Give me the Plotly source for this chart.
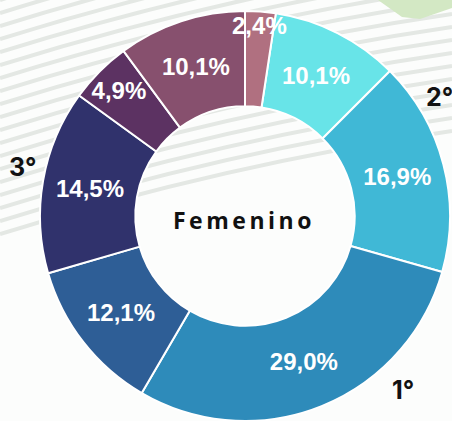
import numpy as np
import plotly.graph_objects as go

W, H = 452, 421

# slices, clockwise; the small 2,4% slice is listed last so its label stays on top
categories = ['G2', 'G3', 'G4', 'G5', 'G6', 'G7', 'G8', 'G1']
values = [10.1, 16.9, 29.0, 12.1, 14.5, 4.9, 10.1, 2.4]
colors = ['#68e4e8', '#40b8d6', '#2e8bba', '#2e5e96',
          '#30326c', '#5c3262', '#87506e', '#b07080']

center_title = 'Femenino'
rank_labels = ['1°', '2°', '3°']


def px2paper(x, y):
    return x / W, 1 - y / H


# pie placement in pixels
cx, cy, r = 245, 216, 205

fig = go.Figure(go.Pie(
    labels=categories,
    values=values,
    sort=False,
    direction='clockwise',
    rotation=values[-1] / sum(values) * 360,
    hole=0.535,
    marker=dict(colors=colors, line=dict(color='white', width=2)),
    texttemplate='%{value:.1f}%',
    textposition='inside',
    insidetextorientation='horizontal',
    textfont=dict(family='Liberation Sans', size=24, color='white', weight='bold'),
    hoverinfo='skip',
    showlegend=False,
    domain=dict(x=[(cx - r) / W, (cx + r) / W],
                y=[1 - (cy + r) / H, 1 - (cy - r) / H]),
))

# decorative background stripes
shapes = []
for a in np.arange(0, 235, 13):
    x0, y0 = px2paper(0, a)
    xc, yc = px2paper(226, a - 70)
    x1, y1 = px2paper(W, a - 103)
    shapes.append(dict(type='path', xref='paper', yref='paper', layer='below',
                       path=f'M {x0},{y0} Q {xc},{yc} {x1},{y1}',
                       line=dict(color='#e4e8e4', width=4)))

leaf = [px2paper(*p) for p in [(378, 0), (452, 0), (452, 8), (420, 19), (402, 17)]]
shapes.append(dict(type='path', xref='paper', yref='paper', layer='below',
                   path='M ' + ' L '.join(f'{x},{y}' for x, y in leaf) + ' Z',
                   fillcolor='#d3e8c4', line=dict(width=0)))

annotations = []
ax, ay = px2paper(244, 220)
annotations.append(dict(
    x=ax, y=ay, xref='paper', yref='paper', showarrow=False,
    xanchor='center', yanchor='middle',
    text=f'<b><span style="letter-spacing:3.5px">{center_title}</span></b>',
    font=dict(family='Open Sans', size=23, color='#111')))

for lab, (px_, py_) in zip(rank_labels, [(403, 390), (439, 97), (22, 167)]):
    lx, ly = px2paper(px_, py_)
    annotations.append(dict(x=lx, y=ly, xref='paper', yref='paper', showarrow=False,
                            xanchor='center', yanchor='middle',
                            text=f'<b>{lab}</b>', font=dict(family='Inter', size=25, color='#111')))

fig.update_layout(
    width=W, height=H,
    margin=dict(l=0, r=0, t=0, b=0),
    paper_bgcolor='#fcfdfc',
    plot_bgcolor='#fcfdfc',
    separators=',.',
    uniformtext=dict(minsize=24, mode='show'),
    shapes=shapes,
    annotations=annotations,
)

fig.write_html('out.html', config={'displayModeBar': False},
               post_script="document.body.style.margin='0';document.body.style.overflow='hidden';")
